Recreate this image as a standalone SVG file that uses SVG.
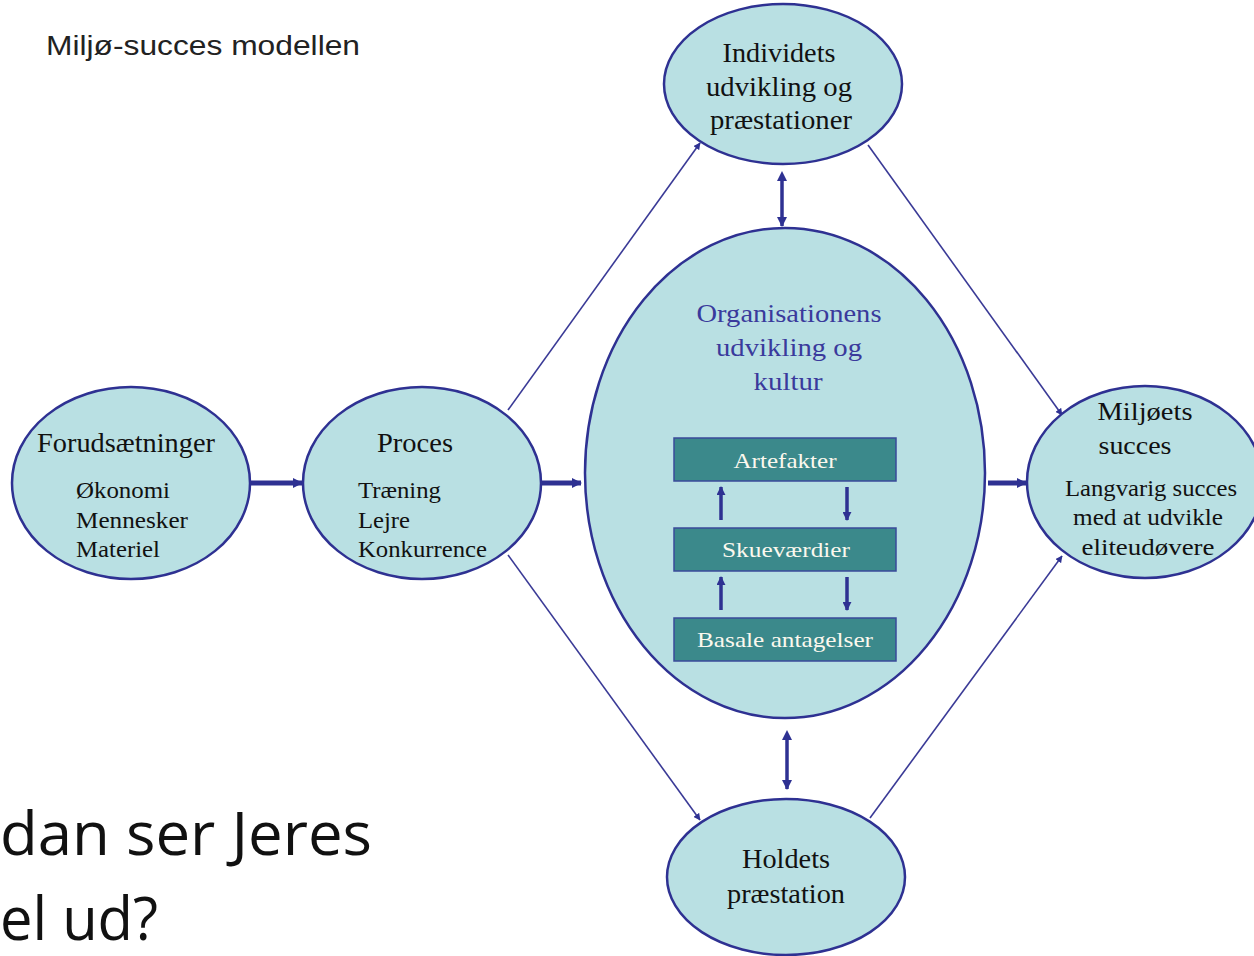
<svg xmlns="http://www.w3.org/2000/svg" width="1254" height="956" viewBox="0 0 1254 956">
<defs>
<style>
.node{fill:#b9e0e3;stroke:#2e3192;stroke-width:2.5}
.t{font-family:"Liberation Serif","Times New Roman",serif;fill:#111}
.c{text-anchor:middle}
.box{fill:#3b898b;stroke:#3a4a9a;stroke-width:1.5}
.bt{font-family:"Liberation Serif","Times New Roman",serif;fill:#fbf8ee;font-size:22px;text-anchor:middle}
.thin{stroke:#3a3a96;stroke-width:1.6;fill:none}
.thick{stroke:#2e3192;stroke-width:5;fill:none}
.mid{stroke:#2e3192;stroke-width:3.5;fill:none}
</style>
<marker id="ah" viewBox="0 0 10 10" refX="9" refY="5" markerWidth="7" markerHeight="7" markerUnits="userSpaceOnUse" orient="auto"><path d="M0,0 L10,5 L0,10 z" fill="#2e3192"/></marker>
<marker id="ahs" viewBox="0 0 10 10" refX="9" refY="5" markerWidth="9" markerHeight="9" markerUnits="userSpaceOnUse" orient="auto"><path d="M0,0 L10,5 L0,10 z" fill="#2e3192"/></marker>
<marker id="ahb" viewBox="0 0 10 10" refX="9" refY="5" markerWidth="10" markerHeight="12" markerUnits="userSpaceOnUse" orient="auto"><path d="M0,0 L10,5 L0,10 z" fill="#2e3192"/></marker>
<marker id="ahd" viewBox="0 0 10 10" refX="1" refY="5" markerWidth="10" markerHeight="12" markerUnits="userSpaceOnUse" orient="auto-start-reverse"><path d="M0,0 L10,5 L0,10 z" fill="#2e3192"/></marker>
</defs>
<rect width="1254" height="956" fill="#ffffff"/>
<text x="46" y="55" font-family="Liberation Sans, Arial, sans-serif" font-size="27" fill="#222" textLength="314" lengthAdjust="spacingAndGlyphs">Miljø-succes modellen</text>

<g id="connectors">
<line class="thick" x1="251" y1="483" x2="302" y2="483" marker-end="url(#ahb)"/>
<line class="thick" x1="542" y1="483" x2="581" y2="483" marker-end="url(#ahb)"/>
<line class="thick" x1="988" y1="483" x2="1026" y2="483" marker-end="url(#ahb)"/>
<line class="thin" x1="508" y1="410" x2="700" y2="143" marker-end="url(#ah)"/>
<line class="thin" x1="868" y1="145" x2="1062" y2="415" marker-end="url(#ah)"/>
<line class="thin" x1="508" y1="555" x2="700" y2="820" marker-end="url(#ah)"/>
<line class="thin" x1="870" y1="818" x2="1062" y2="556" marker-end="url(#ah)"/>
<line class="mid" x1="782" y1="180" x2="782" y2="226" marker-start="url(#ahd)" marker-end="url(#ahb)"/>
<line class="mid" x1="787" y1="739" x2="787" y2="789" marker-start="url(#ahd)" marker-end="url(#ahb)"/>
</g>

<g id="forudsaetninger">
<ellipse class="node" cx="131" cy="483" rx="119" ry="96"/>
<text class="t" x="37" y="452" font-size="27" textLength="178" lengthAdjust="spacingAndGlyphs">Forudsætninger</text>
<text class="t" x="76" y="498" font-size="23" textLength="94" lengthAdjust="spacingAndGlyphs">Økonomi</text>
<text class="t" x="76" y="528" font-size="23" textLength="112" lengthAdjust="spacingAndGlyphs">Mennesker</text>
<text class="t" x="76" y="557" font-size="23" textLength="84" lengthAdjust="spacingAndGlyphs">Materiel</text>
</g>

<g id="proces">
<ellipse class="node" cx="422" cy="483" rx="119" ry="96"/>
<text class="t" x="377" y="452" font-size="27" textLength="76" lengthAdjust="spacingAndGlyphs">Proces</text>
<text class="t" x="358" y="498" font-size="23" textLength="83" lengthAdjust="spacingAndGlyphs">Træning</text>
<text class="t" x="358" y="528" font-size="23" textLength="52" lengthAdjust="spacingAndGlyphs">Lejre</text>
<text class="t" x="358" y="557" font-size="23" textLength="129" lengthAdjust="spacingAndGlyphs">Konkurrence</text>
</g>

<g id="individets">
<ellipse class="node" cx="783" cy="84" rx="119" ry="80"/>
<text class="t c" x="779" y="62" font-size="27" textLength="113" lengthAdjust="spacingAndGlyphs">Individets</text>
<text class="t c" x="779" y="96" font-size="27" textLength="146" lengthAdjust="spacingAndGlyphs">udvikling og</text>
<text class="t c" x="781" y="129" font-size="27" textLength="142" lengthAdjust="spacingAndGlyphs">præstationer</text>
</g>

<g id="organisation">
<ellipse class="node" cx="785" cy="473" rx="200" ry="245"/>
<text class="t c" x="789" y="322" font-size="26" style="fill:#3a3a9c" textLength="185" lengthAdjust="spacingAndGlyphs">Organisationens</text>
<text class="t c" x="789" y="356" font-size="26" style="fill:#3a3a9c" textLength="146" lengthAdjust="spacingAndGlyphs">udvikling og</text>
<text class="t c" x="788" y="390" font-size="26" style="fill:#3a3a9c" textLength="69" lengthAdjust="spacingAndGlyphs">kultur</text>
</g>

<g id="artefakter">
<rect class="box" x="674" y="438" width="222" height="43"/>
<text class="bt" x="785" y="468" textLength="103" lengthAdjust="spacingAndGlyphs">Artefakter</text>
</g>
<g id="skuevaerdier">
<rect class="box" x="674" y="528" width="222" height="43"/>
<text class="bt" x="786" y="557" textLength="128" lengthAdjust="spacingAndGlyphs">Skueværdier</text>
</g>
<g id="basale">
<rect class="box" x="674" y="618" width="222" height="43"/>
<text class="bt" x="785" y="647" textLength="176" lengthAdjust="spacingAndGlyphs">Basale antagelser</text>
</g>

<g id="box-arrows">
<line class="mid" x1="721" y1="520" x2="721" y2="487" marker-end="url(#ahs)"/>
<line class="mid" x1="847" y1="487" x2="847" y2="520" marker-end="url(#ahs)"/>
<line class="mid" x1="721" y1="610" x2="721" y2="577" marker-end="url(#ahs)"/>
<line class="mid" x1="847" y1="577" x2="847" y2="610" marker-end="url(#ahs)"/>
</g>

<g id="miljoets">
<ellipse class="node" cx="1145" cy="482" rx="118" ry="96"/>
<text class="t c" x="1145" y="420" font-size="25" textLength="95" lengthAdjust="spacingAndGlyphs">Miljøets</text>
<text class="t c" x="1135" y="454" font-size="25" textLength="73" lengthAdjust="spacingAndGlyphs">succes</text>
<text class="t c" x="1151" y="496" font-size="23" textLength="172" lengthAdjust="spacingAndGlyphs">Langvarig succes</text>
<text class="t c" x="1148" y="525" font-size="23" textLength="150" lengthAdjust="spacingAndGlyphs">med at udvikle</text>
<text class="t c" x="1148" y="555" font-size="23" textLength="133" lengthAdjust="spacingAndGlyphs">eliteudøvere</text>
</g>

<g id="holdets">
<ellipse class="node" cx="786" cy="877" rx="119" ry="78"/>
<text class="t c" x="786" y="868" font-size="27" textLength="88" lengthAdjust="spacingAndGlyphs">Holdets</text>
<text class="t c" x="786" y="903" font-size="27" textLength="118" lengthAdjust="spacingAndGlyphs">præstation</text>
</g>

<text x="0" y="855" font-family="Open Sans, Noto Sans, sans-serif" font-size="60" fill="#111" textLength="372" lengthAdjust="spacingAndGlyphs">dan ser Jeres</text>
<text x="0" y="940" font-family="Open Sans, Noto Sans, sans-serif" font-size="60" fill="#111" textLength="158" lengthAdjust="spacingAndGlyphs">el ud?</text>
</svg>
